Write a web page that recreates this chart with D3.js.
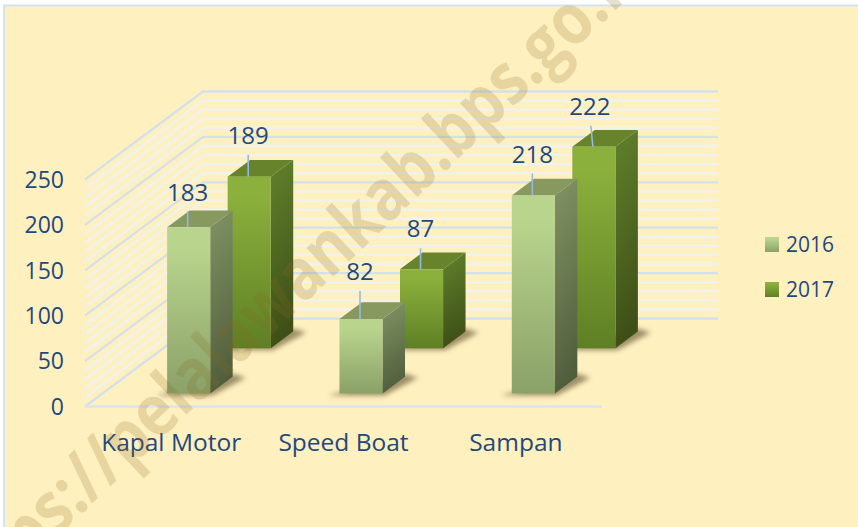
<!DOCTYPE html>
<html><head><meta charset="utf-8">
<script src="https://cdn.jsdelivr.net/npm/d3@7/dist/d3.min.js"></script>
<style>html,body{margin:0;padding:0;background:#fff}svg{display:block}text{font-family:"Open Sans",sans-serif}</style>
</head><body><svg id="c" width="858" height="527"></svg>
<script>
const categories = ["Kapal Motor", "Speed Boat", "Sampan"];
const seriesNames = ["2016", "2017"];
const values2016 = [183, 82, 218];
const values2017 = [189, 87, 222];
const yTicks = [0, 50, 100, 150, 200, 250];
const minorStep = 10;
const watermark = "https://pelalawankab.bps.go.id";

const W = 858, H = 527, ink = "#1f497d";
const svg = d3.select("#c");
const DX = 118, DY = 88;
const x = d3.scaleBand(categories, [85, 602]).paddingInner(0.75).paddingOuter(0.375);
const y = d3.scaleLinear([0, 250], [406.5, 179.5]);
const z = d3.scaleBand(seriesNames, [0, 1]).paddingInner(0.629).paddingOuter(0.289);
const px = (a, d) => a + DX * d;
const py = (v, d) => y(v) - DY * d;

const looks = {
  "2016": {front:["#b9d58d","#8aa168"], side:["#7c8e60","#515e3c"], top:"#87995f"},
  "2017": {front:["#8bb03c","#5e7f24"], side:["#5d7c2a","#3e4f17"], top:"#67832c"}
};
// label rise above the bar top and leader length, by series then category
const labelRise = {"2016":[26,39,33], "2017":[33,32,32]};
const leaderLen = {"2016":[16,28,22], "2017":[22,21,21]};
const leaderLean = {"2016":[0,0,0], "2017":[0,0,-2]};

const defs = svg.append("defs");
const blur = defs.append("filter").attr("id","soft").attr("x","-30%").attr("y","-30%").attr("width","160%").attr("height","160%");
blur.append("feGaussianBlur").attr("stdDeviation",2.4);
function grad(id, c, x2, y2){
  const g = defs.append("linearGradient").attr("id",id).attr("x1",0).attr("y1",0).attr("x2",x2).attr("y2",y2);
  g.append("stop").attr("offset","12%").attr("stop-color",c[0]);
  g.append("stop").attr("offset","100%").attr("stop-color",c[1]);
}
seriesNames.forEach(s => {
  grad("f"+s, looks[s].front, 0, 1);
  grad("s"+s, looks[s].side, 0.15, 1);
});

// panel
svg.append("rect").attr("x",4).attr("y",5.5).attr("width",W+20).attr("height",H+20)
  .attr("fill","#fff0c0").attr("stroke","#d6e3ee").attr("stroke-width",2);

// walls
const gridG = svg.append("g").attr("fill","none").attr("stroke-width",2.3);
const gridVals = d3.range(0, 250 + minorStep, minorStep);
gridG.selectAll("path").data(gridVals.filter(v => v % 50 !== 0).concat(gridVals.filter(v => v % 50 === 0))).join("path")
  .attr("stroke", v => v % 50 === 0 ? "#d3e1ec" : "#eff2ef")
  .attr("d", v => d3.line()([[85, y(v)], [px(85,1), py(v,1)], [px(85,1) + 515, py(v,1)]]));
gridG.append("path").attr("stroke","#dbe5ec").attr("stroke-width",2.4)
  .attr("d", d3.line()([[85, y(0)], [602, y(0)]]));

// bars, back row first
const rows = [["2017", values2017], ["2016", values2016]];
rows.forEach(([s, vals]) => {
  const g = svg.append("g");
  const d0 = z(s), d1 = z(s) + z.bandwidth(), w = x.bandwidth();
  const items = categories.map((c,i) => ({c, v:vals[i], i}));
  g.selectAll(".sh").data(items).join("polygon").attr("fill","#5f4d2c").attr("opacity",0.6).attr("filter","url(#soft)")
    .attr("points", d => {
      const a = x(d.c);
      return [[px(a,d0)-11,py(0,d0)+2],[px(a+w,d0)+2,py(0,d0)+2],[px(a+w,d1)+13,py(0,d1)+1],[px(a+w,d1),py(0,d1)-3]].join(" ");
    });
  g.selectAll(".side").data(items).join("polygon").attr("fill",`url(#s${s})`)
    .attr("points", d => {const a=x(d.c)+w; return [[px(a,d0),py(d.v,d0)],[px(a,d1),py(d.v,d1)],[px(a,d1),py(0,d1)],[px(a,d0),py(0,d0)]].join(" ");});
  g.selectAll(".top").data(items).join("polygon").attr("fill",looks[s].top)
    .attr("points", d => {const a=x(d.c); return [[px(a,d0),py(d.v,d0)],[px(a,d1),py(d.v,d1)],[px(a+w,d1),py(d.v,d1)],[px(a+w,d0),py(d.v,d0)]].join(" ");});
  g.selectAll(".front").data(items).join("rect").attr("fill",`url(#f${s})`)
    .attr("x", d => px(x(d.c),d0)).attr("y", d => py(d.v,d0)).attr("width",w).attr("height", d => y(0)-y(d.v));
});

// leaders and data labels
rows.forEach(([s, vals]) => {
  const d0 = z(s), w = x.bandwidth();
  const items = categories.map((c,i) => ({c, v:vals[i], i}));
  const g = svg.append("g");
  g.selectAll("line").data(items).join("line").attr("stroke","#96b8e4").attr("stroke-width",1.6)
    .attr("x1", d => px(x(d.c)+w/2,d0)+leaderLean[s][d.i]-1).attr("x2", d => px(x(d.c)+w/2,d0)-1)
    .attr("y2", d => py(d.v,d0)).attr("y1", d => py(d.v,d0)-leaderLen[s][d.i]);
  g.selectAll("text").data(items).join("text").attr("text-anchor","middle").attr("font-size",24).attr("fill",ink)
    .attr("x", d => px(x(d.c)+w/2,d0)+leaderLean[s][d.i]*1.5-1)
    .attr("y", d => py(d.v,d0)-labelRise[s][d.i]).text(d => d.v);
});

// axes
const ax = svg.append("g").attr("transform","translate(72,0.5)").call(d3.axisLeft(y).tickValues(yTicks).tickSize(0).tickPadding(8));
ax.select(".domain").remove();
ax.selectAll("text").attr("font-size",23).attr("fill",ink);
const bx = svg.append("g").attr("transform","translate(0,451)").call(d3.axisBottom(x).tickSize(0));
bx.select(".domain").remove();
bx.selectAll("text").attr("font-size",24.5).attr("fill",ink).attr("y",0).attr("dy",0);
ax.attr("font-family",null); bx.attr("font-family",null);

// legend
const legendY = d3.scalePoint(seriesNames, [244.5, 289.5]);
const lg = svg.append("g").selectAll("g").data(seriesNames).join("g").attr("transform", s => `translate(765,${legendY(s)})`);
lg.append("rect").attr("x",0).attr("y",-7.5).attr("width",14).attr("height",15).attr("fill", s => `url(#f${s})`);
lg.append("text").attr("x",21).attr("y",7.5).attr("font-size",21).attr("fill",ink).text(s => s);

// watermark
svg.append("text").attr("transform","translate(-40,628) rotate(-43.3) scale(0.96,1.12)")
  .attr("font-size",64).attr("font-weight",700).attr("fill","#8a6a20").attr("opacity",0.2).text(watermark);
</script></body></html>
